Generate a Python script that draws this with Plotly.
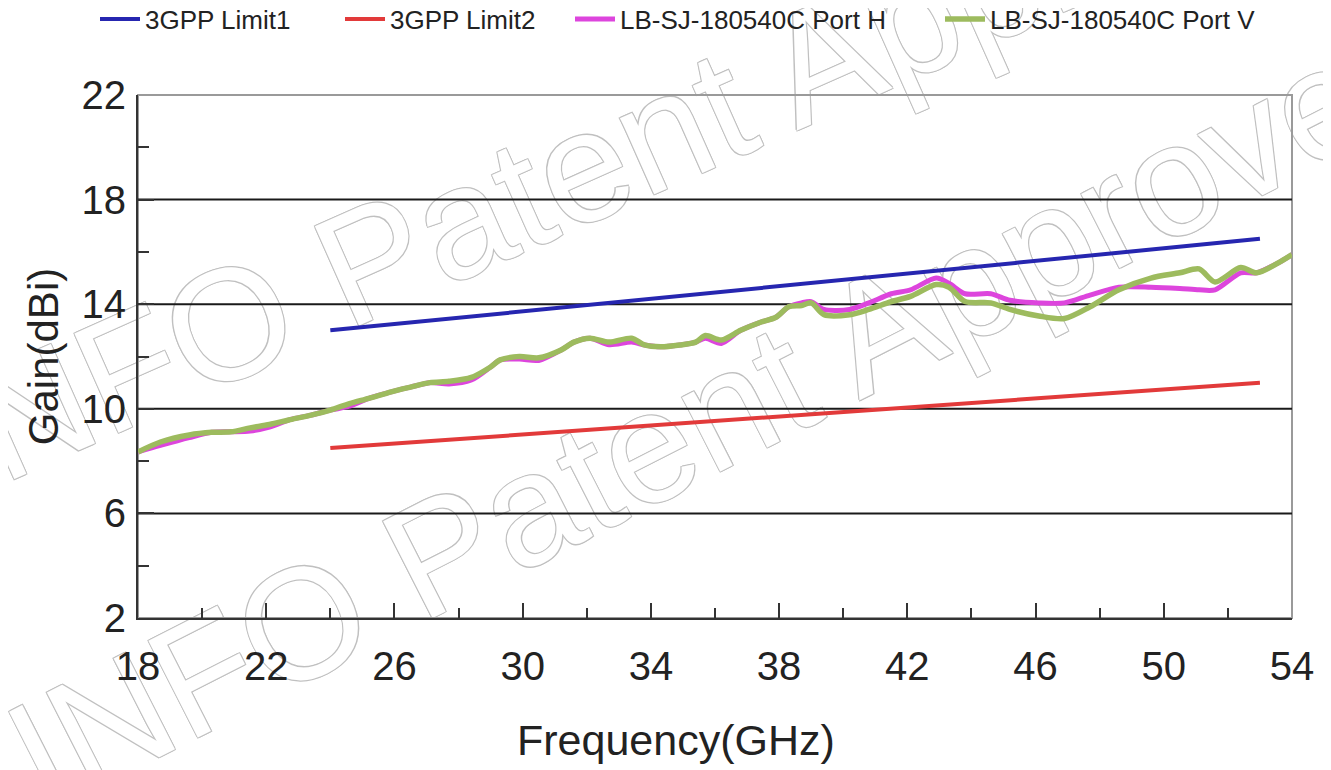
import plotly.graph_objects as go

# ---- data ----
limit_freq = [24, 53]
limit1_gain = [13.0, 16.5]
limit2_gain = [8.5, 11.0]

freq = [18.0, 18.7, 19.6, 20.3, 20.9, 21.5, 22.1, 22.7, 23.4, 24.0,
        24.6, 25.2, 25.9, 26.5, 27.1, 27.7, 28.4, 29.0, 29.3, 29.9,
        30.5, 31.2, 31.6, 32.1, 32.7, 33.4, 33.8, 34.3, 34.9, 35.4,
        35.7, 36.2, 36.8, 37.4, 37.9, 38.3, 38.7, 39.0, 39.4, 40.2,
        40.8, 41.5, 42.1, 42.9, 43.3, 43.8, 44.6, 45.2, 46.1, 46.9,
        47.7, 48.6, 49.6, 50.5, 51.1, 51.6, 52.4, 52.9, 53.6, 54.0]

gain_v = [8.35, 8.73, 9.0, 9.1, 9.12, 9.27, 9.4, 9.57, 9.76, 9.95,
          10.2, 10.4, 10.65, 10.83, 11.0, 11.05, 11.2, 11.6, 11.87, 12.0,
          11.95, 12.25, 12.55, 12.7, 12.55, 12.7, 12.44, 12.37, 12.44, 12.55,
          12.8, 12.63, 13.0, 13.3, 13.5, 13.9, 13.95, 14.05, 13.6, 13.6,
          13.8, 14.1, 14.3, 14.75, 14.65, 14.1, 14.05, 13.8, 13.55, 13.45,
          13.9, 14.55, 15.0, 15.2, 15.35, 14.85, 15.4, 15.2, 15.6, 15.9]

gain_h = [8.35, 8.6, 8.9, 9.1, 9.12, 9.15, 9.3, 9.57, 9.76, 9.95,
          10.1, 10.4, 10.65, 10.83, 11.0, 10.95, 11.1, 11.6, 11.87, 11.9,
          11.85, 12.25, 12.55, 12.7, 12.45, 12.55, 12.44, 12.37, 12.44, 12.55,
          12.7, 12.5, 13.0, 13.3, 13.5, 13.9, 14.05, 14.1, 13.8, 13.8,
          14.05, 14.4, 14.55, 15.0, 14.8, 14.4, 14.4, 14.15, 14.05, 14.05,
          14.35, 14.65, 14.65, 14.6, 14.55, 14.55, 15.2, 15.2, 15.6, 15.9]

series_names = ["3GPP Limit1", "3GPP Limit2", "LB-SJ-180540C Port H", "LB-SJ-180540C Port V"]
series_colors = ["#2626B0", "#E23A3A", "#DD45DD", "#9DBB5E"]

grid_values = [6, 10, 14, 18]
x_range = [18, 54]
y_range = [2, 22]
watermark_text = "INFO Patent Approved"

FONT = "Liberation Sans, Arial, sans-serif"
W, H = 1331, 770
OFF = 8  # page body margin in the browser
# target plot box in screenshot pixels: x 138..1292, y 95..618
L, T = 138 - OFF, 95 - OFF
R = W - (1292 - OFF)
B = H - (618 - OFF)
PW, PH = W - L - R, H - T - B


def px_x(p):
    return (p - OFF - L) / PW


def px_y(p):
    return (H - B - (p - OFF)) / PH


fig = go.Figure()
fig.add_trace(go.Scatter(x=limit_freq, y=limit1_gain, mode="lines", name=series_names[0],
                         legend="legend", showlegend=True,
                         line=dict(color=series_colors[0], width=4)))
fig.add_trace(go.Scatter(x=limit_freq, y=limit2_gain, mode="lines", name=series_names[1],
                         legend="legend2", showlegend=True,
                         line=dict(color=series_colors[1], width=4)))
fig.add_trace(go.Scatter(x=freq, y=gain_h, mode="lines", name=series_names[2],
                         legend="legend3", showlegend=True,
                         line=dict(color=series_colors[2], width=5, shape="spline", smoothing=0.8)))
fig.add_trace(go.Scatter(x=freq, y=gain_v, mode="lines", name=series_names[3],
                         legend="legend4", showlegend=True,
                         line=dict(color=series_colors[3], width=5.5, shape="spline", smoothing=0.8)))

wm_shadow = "1px 1px 0 #c0c0c0, -1px -1px 0 #c0c0c0, 1px -1px 0 #c0c0c0, -1px 1px 0 #c0c0c0"
shapes = []
for (cx, cy, ang) in [(660, 115, -24), (722, 392, -27)]:
    shapes.append(dict(type="rect", xref="paper", yref="paper",
                       x0=px_x(cx - 1), x1=px_x(cx + 1), y0=px_y(cy + 1), y1=px_y(cy - 1),
                       line=dict(width=0), fillcolor="rgba(0,0,0,0)", layer="below",
                       label=dict(text=watermark_text, textangle=ang, textposition="middle center",
                                  font=dict(family=FONT, size=158, color="white", shadow=wm_shadow))))
shapes.append(dict(type="rect", xref="paper", yref="paper", x0=0, x1=1, y0=0, y1=1,
                   line=dict(color="#9a9a9a", width=2), layer="below"))
for g in grid_values:
    shapes.append(dict(type="line", xref="paper", yref="y", x0=0, x1=1, y0=g, y1=g,
                       line=dict(color="#1a1a1a", width=2), layer="below"))

annotations = [
    dict(text="Frequency(GHz)", xref="paper", yref="paper",
         x=px_x(676), y=px_y(740), xanchor="center", yanchor="middle", showarrow=False,
         font=dict(family=FONT, size=43, color="#222222")),
]

legend_common = dict(orientation="h", xanchor="left", xref="container",
                     yref="container", yanchor="middle",
                     y=1 - 11 / H, bgcolor="rgba(0,0,0,0)", itemwidth=40,
                     font=dict(family=FONT, size=26, color="#222222"))
legend_x_px = [87, 332, 562, 932]

fig.update_layout(
    width=W, height=H,
    showlegend=True,
    margin=dict(l=L, r=R, t=T, b=B, autoexpand=False),
    paper_bgcolor="white", plot_bgcolor="rgba(0,0,0,0)",
    font=dict(family=FONT, color="#222222"),
    shapes=shapes,
    annotations=annotations,
    legend=dict(x=legend_x_px[0] / W, **legend_common),
    legend2=dict(x=legend_x_px[1] / W, **legend_common),
    legend3=dict(x=legend_x_px[2] / W, **legend_common),
    legend4=dict(x=legend_x_px[3] / W, **legend_common),
    xaxis=dict(range=x_range, tickmode="linear", tick0=18, dtick=4,
               ticks="inside", ticklen=15, tickwidth=2, tickcolor="#333333",
               minor=dict(dtick=2, tick0=18, ticks="inside", ticklen=10, tickwidth=2,
                          tickcolor="#333333", showgrid=False),
               showgrid=False, zeroline=False,
               showline=True, linecolor="#333333", linewidth=2,
               tickfont=dict(size=40, family=FONT, color="#222222"),
               ticklabelstandoff=12),
    yaxis=dict(range=y_range, tickmode="linear", tick0=2, dtick=4,
               ticks="inside", ticklen=16, tickwidth=2, tickcolor="#333333",
               minor=dict(dtick=2, tick0=2, ticks="inside", ticklen=11, tickwidth=2,
                          tickcolor="#333333", showgrid=False),
               showgrid=False, zeroline=False,
               showline=True, linecolor="#333333", linewidth=2,
               tickfont=dict(size=40, family=FONT, color="#222222"),
               ticklabelstandoff=2,
               title=dict(text="Gain(dBi)", font=dict(size=42, family=FONT, color="#222222"),
                          standoff=10)),
)

fig.write_html("out.html")
